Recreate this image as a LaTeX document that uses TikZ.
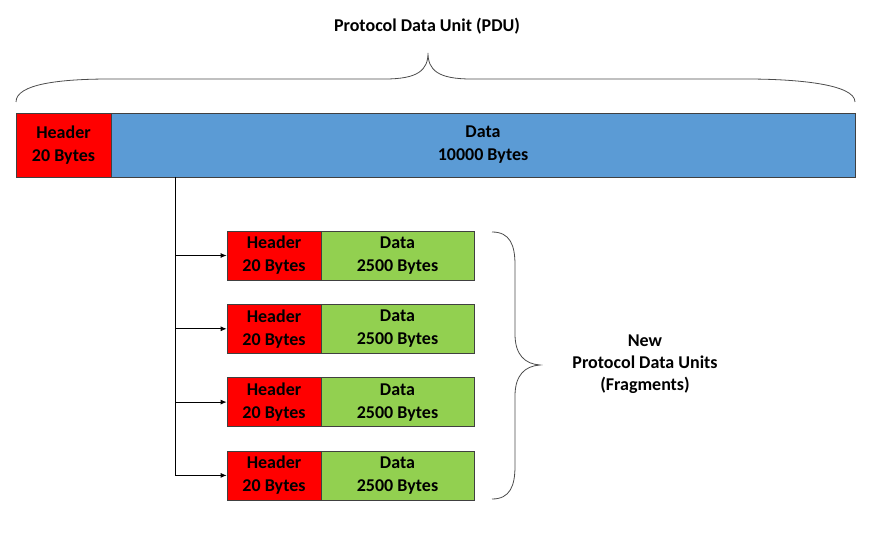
\documentclass[tikz,border=0pt]{standalone}
\usepackage{fontspec}
\setmainfont{Carlito}
\usepackage{xcolor}
\usetikzlibrary{arrows.meta}
\definecolor{hdred}{HTML}{FF0000}
\definecolor{pdublue}{HTML}{5B9BD5}
\definecolor{fraggreen}{HTML}{92D050}
\tikzset{
  field/.style={draw=black!75, line width=0.8pt, inner sep=0pt, align=center,
    font=\fontsize{18}{23}\selectfont\bfseries},
  brace/.style={draw=black!70, line width=0.8pt},
  feed/.style={line width=0.8pt, -{Latex[length=6pt,width=5pt]}}
}
\begin{document}
\begin{tikzpicture}[x=1pt,y=-1pt]
\useasboundingbox (0,0) rectangle (880,534);
% title over the top brace
\node[font=\fontsize{18}{23}\selectfont\bfseries] (title) at (427,26) {Protocol Data Unit (PDU)};
% draw top brace
\draw[brace] (16,102) .. controls (16,84) and (60,79) .. (110,79) -- (385,79)
  .. controls (418,79) and (428,70) .. (428,53)
  .. controls (428,70) and (438,79) .. (471,79) -- (746,79)
  .. controls (796,79) and (855,84) .. (855,102);

% original PDU
\node[field, fill=hdred, minimum width=95, minimum height=64] (hd) at (63.5,145) {Header\\20 Bytes};
\node[field, fill=pdublue, minimum width=744, minimum height=64] (data) at (483,145) {Data\\10000 Bytes};

% fragments
\foreach \i in {1,...,4}{
  \node[field, fill=hdred, minimum width=94, minimum height=49] (hd\i) at (274,{255.5+73.3*(\i-1)}) {Header\\20 Bytes};
  \node[field, fill=fraggreen, minimum width=153, minimum height=49] (data\i) at (397.5,{255.5+73.3*(\i-1)}) {Data\\2500 Bytes};
}

% draw split line and arrows
\coordinate (split) at (175,177);
\draw[line width=0.8pt] (split) -- (split |- hd4.west);
\foreach \i in {1,...,4}{
  \draw[feed] (split |- hd\i.west) -- (hd\i.west);
}

% draw right brace
\draw[brace] (492,232) .. controls (510,232) and (515,245) .. (515,265) -- (515,334)
  .. controls (515,355) and (525,364) .. (540,365)
  .. controls (525,366) and (515,375) .. (515,396) -- (515,466)
  .. controls (515,486) and (510,499) .. (492,499);
\node[font=\fontsize{18}{22}\selectfont\bfseries, align=center] (frags) at (645,364) {New\\Protocol Data Units\\(Fragments)};
\end{tikzpicture}
\end{document}
